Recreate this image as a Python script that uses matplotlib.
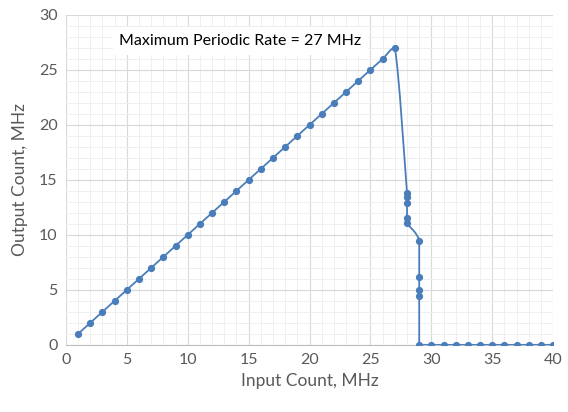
import numpy as np
import matplotlib.pyplot as plt
from matplotlib.path import Path
from matplotlib.patches import PathPatch
from matplotlib.ticker import MultipleLocator

# datos
input_mhz = list(range(1, 28)) + [28, 28, 28, 28, 28, 29, 29, 29, 29, 29] + list(range(30, 41))
output_mhz = list(range(1, 28)) + [13.8, 13.4, 12.85, 11.55, 11.05, 9.45, 6.15, 5.0, 4.4, 0.0] + [0.0] * 11

LINE_COLOR = "#4a7ebb"
plt.rcParams["font.family"] = ["Lato", "DejaVu Sans"]


def smooth_path(x, y, tension=0.5):
    """Curva tipo Bezier (linea suavizada) sin sobrepasar cada tramo."""
    pts = np.column_stack([x, y]).astype(float)
    verts = [pts[0]]
    codes = [Path.MOVETO]
    n = len(pts)
    for i in range(n - 1):
        p0 = pts[i - 1] if i > 0 else pts[i]
        p1 = pts[i]
        p2 = pts[i + 1]
        p3 = pts[i + 2] if i + 2 < n else pts[i + 1]
        lo = np.minimum(p1, p2)
        hi = np.maximum(p1, p2)
        c1 = np.clip(p1 + (p2 - p0) * tension / 3, lo, hi)
        c2 = np.clip(p2 - (p3 - p1) * tension / 3, lo, hi)
        verts += [c1, c2, p2]
        codes += [Path.CURVE4] * 3
    return Path(verts, codes)


fig = plt.figure(figsize=(5.68, 4.12), dpi=100)
ax = fig.add_axes([0.116, 0.163, 0.858, 0.801])

ax.add_patch(PathPatch(smooth_path(input_mhz, output_mhz), fill=False,
                       edgecolor=LINE_COLOR, lw=1.3, zorder=3))
ax.plot(input_mhz, output_mhz, ls="none", marker="o", ms=4.2,
        color=LINE_COLOR, zorder=4)

ax.set_xlim(0, 40)
ax.set_ylim(0, 30)
ax.xaxis.set_major_locator(MultipleLocator(5))
ax.yaxis.set_major_locator(MultipleLocator(5))
ax.xaxis.set_minor_locator(MultipleLocator(1))
ax.yaxis.set_minor_locator(MultipleLocator(1))
ax.grid(True, which="major", color="#d9d9d9", lw=0.8)
ax.grid(True, which="minor", color="#efefef", lw=0.7)
ax.set_axisbelow(True)

for side in ["top", "right", "left"]:
    ax.spines[side].set_visible(False)
ax.spines["bottom"].set_color("#bfbfbf")

ax.tick_params(which="both", length=0, labelsize=11.5, colors="#595959", pad=6)
ax.set_xlabel("Input Count, MHz", fontsize=12.5, color="#595959", labelpad=4)
ax.set_ylabel("Output Count, MHz", fontsize=12.5, color="#595959", labelpad=8)

ax.text(4.4, 27.6, "Maximum Periodic Rate = 27 MHz", fontsize=11.5, color="black",
        va="center", ha="left", zorder=5,
        bbox=dict(facecolor="white", edgecolor="none", pad=5))

fig.savefig("out.png", dpi=100)
